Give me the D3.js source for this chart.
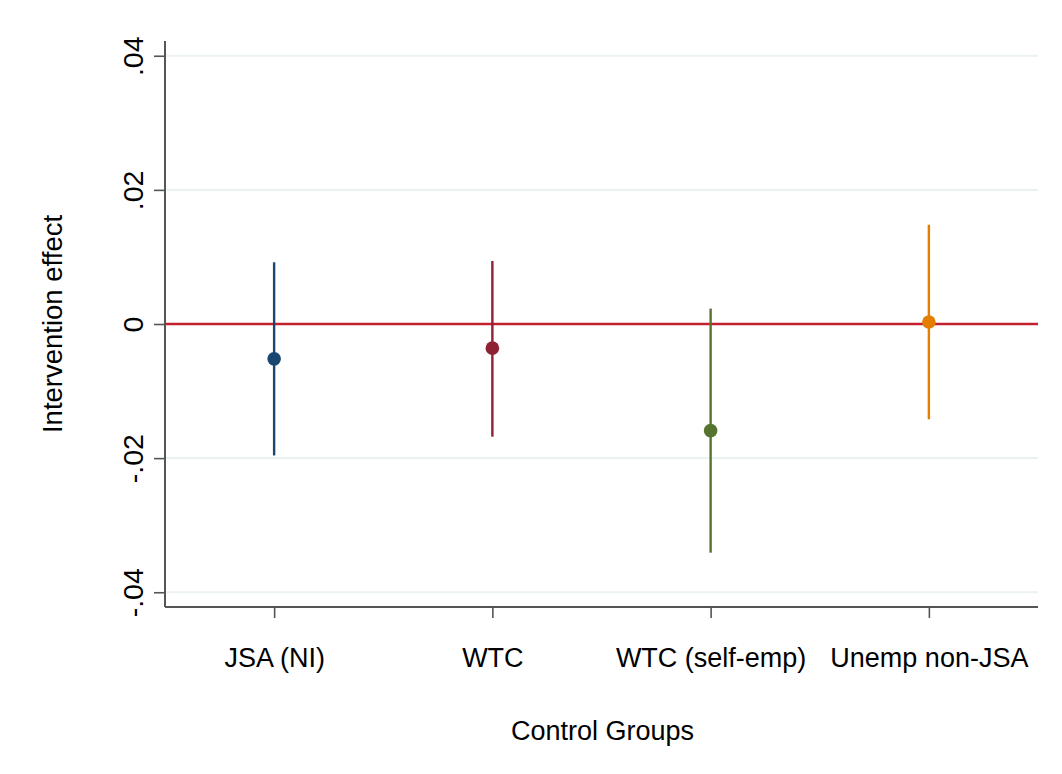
<!DOCTYPE html>
<html>
<head>
<meta charset="utf-8">
<script src="https://cdn.jsdelivr.net/npm/d3@7"></script>
<style>
  html, body { margin: 0; padding: 0; background: #fff; }
  svg { display: block; font-family: "Liberation Sans", Arial, sans-serif; }
</style>
</head>
<body>
<svg id="chart" width="1062" height="774"></svg>
<script>
const categories = ["JSA (NI)", "WTC", "WTC (self-emp)", "Unemp non-JSA"];
const estimates  = [-0.0052, -0.0036, -0.0159, 0.0003];
const ciLower    = [-0.0196, -0.0168, -0.0341, -0.0142];
const ciUpper    = [0.0092, 0.0094, 0.0023, 0.0148];
const colors     = ["#1a476f", "#8f2232", "#55752f", "#e37e00"];
const yTicks     = [-0.04, -0.02, 0, 0.02, 0.04];
const yTickLabels = ["-.04", "-.02", "0", ".02", ".04"];

(function () {
const svg = d3.select("#chart");
const pLeft = 165, pRight = 1038, pTop = 41, pBottom = 607;

const x = d3.scaleLinear().domain([0.5, 4.5]).range([pLeft, pRight]);
const y = d3.scaleLinear().domain([-0.0422, 0.0422]).range([pBottom, pTop]);

// grid lines
svg.append("g").selectAll("line").data(yTicks).join("line")
  .attr("x1", pLeft).attr("x2", pRight)
  .attr("y1", d => y(d)).attr("y2", d => y(d))
  .attr("stroke", "#eaf2f3").attr("stroke-width", 2);

// zero reference line
svg.append("line")
  .attr("x1", pLeft).attr("x2", pRight)
  .attr("y1", y(0)).attr("y2", y(0))
  .attr("stroke", "#c4202e").attr("stroke-width", 2.7);

// y axis
const yAxis = d3.axisLeft(y).tickValues(yTicks)
  .tickFormat((d, i) => yTickLabels[i]).tickSize(11).tickSizeOuter(0);
const gy = svg.append("g").attr("transform", `translate(${pLeft},0)`).call(yAxis);
gy.select(".domain").attr("stroke", "#555").attr("stroke-width", 2)
  .attr("d", `M0,${pTop}V${pBottom}`);
gy.selectAll(".tick line").attr("stroke", "#555").attr("stroke-width", 1.6);
gy.selectAll(".tick text")
  .attr("x", 0).attr("dy", 0)
  .attr("transform", "translate(-22,0) rotate(-90)")
  .attr("text-anchor", "middle")
  .attr("fill", "#000")
  .style("font-size", "28.5px");

// x axis
const xAxis = d3.axisBottom(x).tickValues([1, 2, 3, 4])
  .tickFormat((d, i) => categories[i]).tickSize(11).tickSizeOuter(0);
const gx = svg.append("g").attr("transform", `translate(0,${pBottom})`).call(xAxis);
gx.select(".domain").attr("stroke", "#555").attr("stroke-width", 2)
  .attr("d", `M${pLeft},0H${pRight}`);
gx.selectAll(".tick line").attr("stroke", "#555").attr("stroke-width", 1.6);
gx.selectAll(".tick text")
  .attr("y", 60).attr("dy", 0)
  .attr("fill", "#000")
  .style("font-size", "27px");

// error bars
const data = categories.map((c, i) => ({c, i, est: estimates[i], lo: ciLower[i], hi: ciUpper[i], col: colors[i]}));
svg.append("g").selectAll("line").data(data).join("line")
  .attr("x1", d => x(d.i + 1)).attr("x2", d => x(d.i + 1))
  .attr("y1", d => y(d.lo)).attr("y2", d => y(d.hi))
  .attr("stroke", d => d.col).attr("stroke-width", 2.4);

svg.append("g").selectAll("circle").data(data).join("circle")
  .attr("cx", d => x(d.i + 1)).attr("cy", d => y(d.est))
  .attr("r", 6.8).attr("fill", d => d.col);

// axis titles
svg.append("text")
  .attr("x", (pLeft + pRight) / 2 + 1).attr("y", 740)
  .attr("text-anchor", "middle").attr("fill", "#000")
  .style("font-size", "27px").text("Control Groups");

svg.append("text")
  .attr("transform", `translate(62,${(pTop + pBottom) / 2}) rotate(-90)`)
  .attr("text-anchor", "middle").attr("fill", "#000")
  .style("font-size", "27.5px").text("Intervention effect");
})();
</script>
</body>
</html>
